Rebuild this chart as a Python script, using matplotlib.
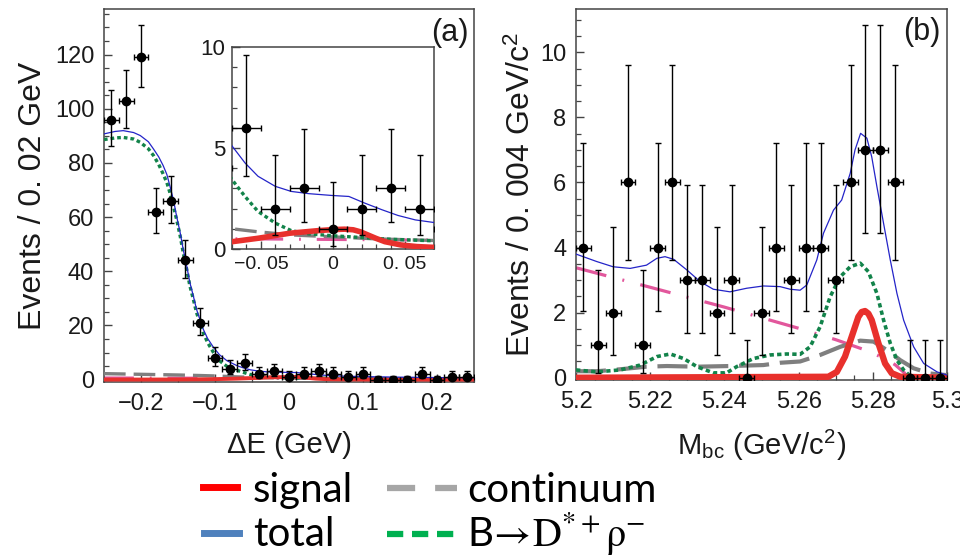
import matplotlib
matplotlib.use("Agg")
import matplotlib.pyplot as plt
from matplotlib.lines import Line2D
from matplotlib.ticker import MultipleLocator, FixedLocator, FixedFormatter

plt.rcParams["font.family"] = ["Liberation Sans", "DejaVu Sans"]
plt.rcParams["mathtext.fontset"] = "custom"
plt.rcParams["mathtext.rm"] = "STIXGeneral"
plt.rcParams["mathtext.it"] = "STIXGeneral:italic"
plt.rcParams["mathtext.sf"] = "Liberation Sans"

# ---- Delta E data (bins of 0.02 GeV) ----
de_x = [-0.24, -0.22, -0.20, -0.18, -0.16, -0.14, -0.12, -0.10, -0.08, -0.06,
        -0.04, -0.02, 0.00, 0.02, 0.04, 0.06, 0.08, 0.10, 0.12, 0.14,
        0.16, 0.18, 0.20, 0.22, 0.24]
de_n = [96, 103, 119, 62, 66, 44, 21, 8, 4, 6,
        2, 3, 1, 2, 3, 2, 1, 2, 0, 0,
        0, 2, 0, 1, 1]
de_err_lo = [9.8, 10.1, 10.9, 7.9, 8.1, 6.6, 4.5, 2.8, 1.94, 2.38,
             1.3, 1.64, 0.83, 1.3, 1.64, 1.3, 0.83, 1.3, 0, 0,
             0, 1.3, 0, 0.83, 0.83]
de_err_hi = [10.8, 11.2, 11.9, 8.9, 9.2, 7.7, 5.6, 3.9, 3.2, 3.6,
             2.64, 2.92, 2.3, 2.64, 2.92, 2.64, 2.3, 2.64, 1.15, 1.15,
             1.15, 2.64, 1.15, 2.3, 2.3]
de_bin_half = 0.01

# fit components vs Delta E
de_total_x = [-0.25, -0.235, -0.224, -0.21, -0.201, -0.19, -0.183, -0.176, -0.170, -0.165,
              -0.161, -0.156, -0.152, -0.147, -0.143, -0.138, -0.134, -0.129, -0.125, -0.12,
              -0.116, -0.11, -0.102, -0.094, -0.084, -0.07, -0.061, -0.052, -0.04, -0.029,
              -0.017, -0.001, 0.011, 0.022, 0.034, 0.045, 0.057, 0.07, 0.1, 0.15, 0.2, 0.25]
de_total_y = [90.7, 91.6, 91.9, 91.2, 90.1, 87.8, 85.1, 82.2, 79.0, 75.7,
              71.6, 66.2, 60.5, 54.2, 48.2, 41.7, 35.9, 30.6, 26.0, 21.9,
              18.7, 15.2, 11.9, 9.2, 7.0, 5.1, 4.26, 3.6, 3.1, 2.85,
              2.74, 2.65, 2.6, 2.27, 1.94, 1.66, 1.44, 1.31, 1.1, 0.9, 0.75, 0.65]

de_dstrho_x = [-0.25, -0.235, -0.224, -0.21, -0.201, -0.19, -0.183, -0.176, -0.170, -0.165,
               -0.161, -0.156, -0.152, -0.147, -0.143, -0.138, -0.134, -0.129, -0.125, -0.12,
               -0.116, -0.11, -0.102, -0.094, -0.084, -0.07, -0.061, -0.052, -0.04, -0.029,
               -0.017, -0.001, 0.017, 0.04, 0.067, 0.1, 0.15, 0.2, 0.25]
de_dstrho_y = [88.6, 89.2, 89.4, 88.8, 87.6, 85.2, 82.7, 79.4, 75.9, 72.7,
               69.1, 63.8, 59.3, 53.0, 47.0, 40.5, 34.7, 29.4, 24.8, 20.8,
               17.4, 13.7, 10.0, 7.0, 4.9, 3.43, 2.6, 1.86, 1.28, 0.91,
               0.75, 0.66, 0.58, 0.48, 0.41, 0.35, 0.28, 0.22, 0.18]

de_signal_x = [-0.25, -0.2, -0.15, -0.12, -0.1, -0.085, -0.07, -0.052, -0.03, -0.01,
               0.0, 0.008, 0.014, 0.019, 0.024, 0.03, 0.036, 0.047, 0.058, 0.07,
               0.1, 0.15, 0.25]
de_signal_y = [0.0, 0.01, 0.04, 0.1, 0.17, 0.26, 0.36, 0.53, 0.78, 0.91,
               0.96, 0.98, 0.95, 0.85, 0.70, 0.52, 0.36, 0.2, 0.12, 0.08,
               0.03, 0.01, 0.0]

de_cont_x = [-0.25, -0.2, -0.15, -0.12, -0.1, -0.07, -0.052, -0.03, 0.0, 0.03, 0.07, 0.15, 0.25]
de_cont_y = [2.2, 1.95, 1.7, 1.5, 1.35, 1.0, 0.85, 0.7, 0.6, 0.5, 0.42, 0.3, 0.2]

de_bbbar_x = [-0.25, -0.1, 0.0, 0.07, 0.25]
de_bbbar_y = [0.6, 0.52, 0.47, 0.44, 0.38]

# ---- Mbc data (bins of 0.004 GeV/c^2) ----
mbc_x = [5.202, 5.206, 5.210, 5.214, 5.218, 5.222, 5.226, 5.230, 5.234, 5.238,
         5.242, 5.246, 5.250, 5.254, 5.258, 5.262, 5.266, 5.270, 5.274, 5.278,
         5.282, 5.286, 5.290, 5.294, 5.298]
mbc_n = [4, 1, 2, 6, 1, 4, 6, 3, 3, 2,
         3, 0, 2, 4, 3, 4, 4, 3, 6, 7,
         7, 6, 0, 0, 0]
mbc_err_lo = [1.94, 0.85, 1.3, 2.38, 0.85, 1.94, 2.38, 1.64, 1.64, 1.3,
              1.64, 0, 1.3, 1.94, 1.64, 1.94, 1.94, 1.64, 2.38, 2.56,
              2.56, 2.38, 0, 0, 0]
mbc_err_hi = [3.2, 2.3, 2.64, 3.6, 2.3, 3.2, 3.6, 2.92, 2.92, 2.64,
              2.92, 1.15, 2.64, 3.2, 2.92, 3.2, 3.2, 2.92, 3.6, 3.84,
              3.84, 3.6, 1.15, 1.15, 1.15]
mbc_bin_half = 0.002

mbc_total_x = [5.2, 5.2056, 5.210, 5.2146, 5.219, 5.2218, 5.224, 5.2263, 5.2299, 5.2335,
               5.237, 5.2415, 5.246, 5.2505, 5.255, 5.2577, 5.2604, 5.2622, 5.2649, 5.2667,
               5.2694, 5.2716, 5.2739, 5.2752, 5.2767, 5.2784, 5.2797, 5.2811, 5.2829, 5.2847,
               5.2865, 5.2883, 5.291, 5.2937, 5.2973, 5.3]
mbc_total_y = [3.80, 3.57, 3.41, 3.36, 3.46, 3.67, 3.72, 3.64, 3.31, 2.95,
               2.72, 2.64, 2.75, 2.82, 2.80, 2.72, 2.69, 2.85, 3.62, 4.44,
               5.15, 5.46, 6.28, 7.0, 7.51, 7.36, 6.79, 5.87, 4.74, 3.62,
               2.59, 1.77, 0.95, 0.44, 0.18, 0.08]

mbc_dstrho_x = [5.2, 5.2056, 5.2119, 5.2173, 5.2218, 5.2254, 5.229, 5.2326, 5.237, 5.2406,
                5.2433, 5.2478, 5.2523, 5.2568, 5.2604, 5.2631, 5.2658, 5.2685, 5.2712, 5.2739,
                5.2766, 5.2788, 5.2811, 5.2829, 5.2847, 5.2865, 5.2883, 5.2901, 5.292, 5.3]
mbc_dstrho_y = [0.24, 0.18, 0.24, 0.39, 0.65, 0.73, 0.59, 0.34, 0.15, 0.15,
                0.34, 0.59, 0.70, 0.73, 0.72, 0.95, 1.57, 2.49, 3.10, 3.41,
                3.52, 3.26, 2.59, 1.77, 1.06, 0.54, 0.24, 0.05, 0.0, 0.0]

mbc_cont_x = [5.2, 5.2056, 5.2119, 5.219, 5.2245, 5.2326, 5.2415, 5.2505, 5.255, 5.2604,
              5.2658, 5.2712, 5.2766, 5.2802, 5.2838, 5.2874, 5.291, 5.2955, 5.3]
mbc_cont_y = [0.2, 0.2, 0.26, 0.34, 0.36, 0.34, 0.36, 0.39, 0.46, 0.5,
              0.70, 0.95, 1.14, 1.11, 0.85, 0.54, 0.29, 0.13, 0.08]

mbc_bbbar_x = [5.2, 5.22, 5.24, 5.26, 5.27, 5.278, 5.283, 5.286, 5.2885, 5.2895]
mbc_bbbar_y = [3.38, 2.78, 2.17, 1.52, 1.17, 0.85, 0.6, 0.4, 0.15, 0.0]

mbc_signal_x = [5.2, 5.268, 5.2703, 5.2725, 5.2743, 5.2761, 5.2770, 5.2779, 5.2788, 5.2797,
                5.2815, 5.2833, 5.2851, 5.2874, 5.3]
mbc_signal_y = [0.0, 0.03, 0.18, 0.65, 1.26, 1.87, 2.02, 2.05, 1.97, 1.77,
                1.06, 0.44, 0.14, 0.03, 0.0]

RED = "#e8302c"
BLUE = "#2424c8"
GREEN = "#12834a"
GRAY = "#7f7f7f"
PINK = "#e2579c"
FRAME = "#444444"
TXT = "#1a1a1a"


def style_axes(ax, label_size):
    for sp in ax.spines.values():
        sp.set_color(FRAME)
        sp.set_linewidth(1.1)
    ax.tick_params(which="both", direction="in", top=False, right=False,
                   color=FRAME, labelsize=label_size, labelcolor=TXT)
    ax.tick_params(which="major", length=6, width=1.0, pad=7)
    ax.tick_params(axis="x", which="major", pad=8)
    ax.tick_params(which="minor", length=3.5, width=0.9)


def draw_components(ax, comps):
    for x, y, kw in comps:
        ax.plot(x, y, **kw)


def draw_points(ax, x, n, lo, hi, xhalf, ms=6):
    ax.errorbar(x, n, yerr=[lo, hi], xerr=xhalf, fmt="o", color="black",
                ms=ms, elinewidth=1.0, capsize=2, capthick=1.0, zorder=10)


fig = plt.figure(figsize=(9.6, 5.56), dpi=100)

ax_de = fig.add_axes([0.1083, 0.3129, 0.3854, 0.6709])
ax_in = fig.add_axes([0.2417, 0.5522, 0.2104, 0.3633])
ax_mb = fig.add_axes([0.6, 0.3165, 0.3865, 0.6673])


def de_components(signal_lw):
    return [
        (de_bbbar_x, de_bbbar_y, dict(color=PINK, lw=2.2, dashes=(9.8, 5.2, 0.6, 5.2), zorder=2)),
        (de_cont_x, de_cont_y, dict(color=GRAY, lw=2.4, dashes=(6.5, 2.4), zorder=3)),
        (de_dstrho_x, de_dstrho_y, dict(color=GREEN, lw=2.4, dashes=(1.1, 0.9), zorder=4)),
        (de_signal_x, de_signal_y, dict(color=RED, lw=signal_lw, solid_capstyle="butt", zorder=5)),
        (de_total_x, de_total_y, dict(color=BLUE, lw=0.9, zorder=6)),
    ]


# Delta E panel
draw_components(ax_de, de_components(2.8))
draw_points(ax_de, de_x, de_n, de_err_lo, de_err_hi, de_bin_half)
ax_de.set_xlim(-0.25, 0.25)
ax_de.set_ylim(-0.9, 136.8)
style_axes(ax_de, 17)
ax_de.xaxis.set_major_locator(FixedLocator([-0.2, -0.1, 0.0, 0.1, 0.2]))
ax_de.xaxis.set_major_formatter(FixedFormatter(["\u22120.2", "\u22120.1", "0", "0.1", "0.2"]))
ax_de.xaxis.set_minor_locator(MultipleLocator(0.05))
ax_de.yaxis.set_major_locator(MultipleLocator(20))
ax_de.yaxis.set_minor_locator(MultipleLocator(5))
ax_de.set_xlabel("\u0394E (GeV)", fontsize=21, color=TXT)
ax_de.set_ylabel("Events / 0. 02 GeV", fontsize=23, color=TXT)
ax_de.xaxis.set_label_coords(0.5, -0.13)
ax_de.yaxis.set_label_coords(-0.151, 0.5)
ax_de.text(0.935, 0.936, "(a)", transform=ax_de.transAxes, fontsize=22,
           ha="center", va="center", color=TXT)

# inset: zoom on the signal region
draw_components(ax_in, de_components(4.0))
draw_points(ax_in, de_x, de_n, de_err_lo, de_err_hi, de_bin_half)
ax_in.set_xlim(-0.07, 0.07)
ax_in.set_ylim(0, 10)
style_axes(ax_in, 14)
ax_in.tick_params(axis="y", labelsize=16)
ax_in.xaxis.set_major_locator(FixedLocator([-0.05, 0.0, 0.05]))
ax_in.xaxis.set_major_formatter(FixedFormatter(["\u22120. 05", "0", "0. 05"]))
ax_in.xaxis.set_minor_locator(MultipleLocator(0.01))
ax_in.yaxis.set_major_locator(MultipleLocator(5))
ax_in.yaxis.set_minor_locator(MultipleLocator(1))
ax_in.tick_params(which="major", pad=5)

# Mbc panel
mb_comps = [
    (mbc_bbbar_x, mbc_bbbar_y, dict(color=PINK, lw=2.3, dashes=(9.8, 5.2, 0.6, 5.2), zorder=2)),
    (mbc_cont_x, mbc_cont_y, dict(color=GRAY, lw=3.0, dashes=(7.2, 2.6), zorder=3)),
    (mbc_dstrho_x, mbc_dstrho_y, dict(color=GREEN, lw=2.6, dashes=(1.2, 0.9), zorder=4)),
    (mbc_signal_x, mbc_signal_y, dict(color=RED, lw=4.6, solid_capstyle="butt", zorder=5)),
    (mbc_total_x, mbc_total_y, dict(color=BLUE, lw=0.9, zorder=6)),
]
draw_components(ax_mb, mb_comps)
draw_points(ax_mb, mbc_x, mbc_n, mbc_err_lo, mbc_err_hi, mbc_bin_half)
ax_mb.set_xlim(5.2, 5.3)
ax_mb.set_ylim(-0.07, 11.33)
style_axes(ax_mb, 17)
ax_mb.xaxis.set_major_locator(FixedLocator([5.2, 5.22, 5.24, 5.26, 5.28, 5.3]))
ax_mb.xaxis.set_major_formatter(FixedFormatter(["5.2", "5.22", "5.24", "5.26", "5.28", "5.3"]))
ax_mb.xaxis.set_minor_locator(MultipleLocator(0.005))
ax_mb.yaxis.set_major_locator(MultipleLocator(2))
ax_mb.yaxis.set_minor_locator(MultipleLocator(0.5))
ax_mb.set_xlabel(r"M$_{\mathsf{bc}}$ (GeV/c$^{\mathsf{2}}$)", fontsize=21, color=TXT)
ax_mb.set_ylabel(r"Events / 0. 004 GeV/c$^{\mathsf{2}}$", fontsize=23, color=TXT)
ax_mb.xaxis.set_label_coords(0.5, -0.13)
ax_mb.yaxis.set_label_coords(-0.105, 0.5)
ax_mb.text(0.932, 0.938, "(b)", transform=ax_mb.transAxes, fontsize=22,
           ha="center", va="center", color=TXT)

# legend below the panels
W, H = 960.0, 556.0
legend_items = [
    (203, 237, 487, dict(color="#ff0000", lw=5), 253, 502, "signal"),
    (204, 239, 533, dict(color="#4f81bd", lw=5), 253, 546, "total"),
    (387, 457, 488, dict(color="#a6a6a6", lw=4.5, dashes=(4.5, 3.2)), 467, 502, "continuum"),
    (387, 457, 534, dict(color="#00b050", lw=4.5, dashes=(2.6, 1.4)), 467, 546,
     r"B$\!\rightarrow\!\mathrm{D}^{*+}\mathrm{\rho}^{-}$"),
]
for x0, x1, yl, kw, tx, ty, label in legend_items:
    fig.add_artist(Line2D([x0 / W, x1 / W], [1 - yl / H, 1 - yl / H],
                          transform=fig.transFigure, **kw))
    fig.text(tx / W, 1 - ty / H, label, fontsize=29, family=["Lato", "DejaVu Sans"],
             ha="left", va="baseline", color="black")

fig.savefig("out.png", dpi=100)
